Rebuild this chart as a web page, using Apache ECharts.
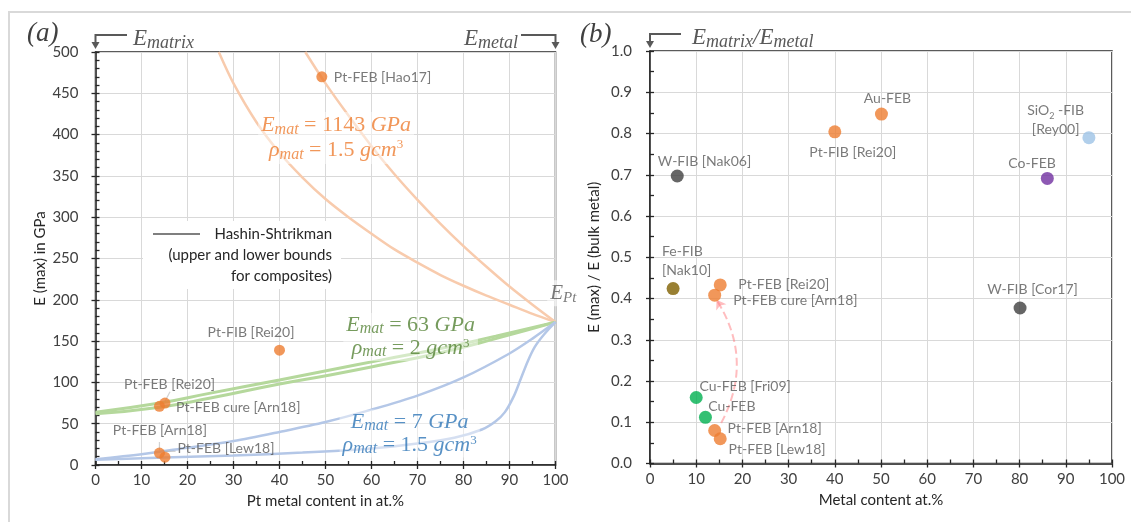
<!DOCTYPE html>
<html>
<head>
<meta charset="utf-8">
<script src="https://cdn.jsdelivr.net/npm/echarts/dist/echarts.min.js"></script>
<style>
  html, body { margin: 0; padding: 0; background: #ffffff; }
  #chart { width: 1131px; height: 522px; }
</style>
</head>
<body>
<div id="chart"></div>
<script>
// ---------- (a) Pt deposits: Pt content vs. maximum Young's modulus ----------
const ptLabels  = ['Pt-FEB [Hao17]', 'Pt-FIB [Rei20]', 'Pt-FEB [Rei20]', 'Pt-FEB cure [Arn18]', 'Pt-FEB [Arn18]', 'Pt-FEB [Lew18]'];
const ptContent = [49.2, 40, 15.1, 13.9, 13.9, 15.1];
const ptModulus = [470, 139, 75, 71, 14.5, 9.5];

// Hashin-Shtrikman bounds, matrix E = 1143 GPa, rho = 1.5
const hs1143UpperX = [45.6, 50, 55, 60, 65, 70, 75, 80, 85, 90, 95, 100];
const hs1143UpperE = [500, 462, 423, 386, 352, 321, 292, 265, 240, 216, 194, 173];
const hs1143LowerX = [26.8, 30, 35, 40, 45, 50, 55, 60, 65, 70, 75, 80, 85, 90, 95, 100];
const hs1143LowerE = [500, 462, 415, 378, 348, 322, 300, 280, 261, 245, 230, 217, 205, 194, 183, 173];
// matrix E = 63 GPa, rho = 2
const hs63X      = [0, 14, 25, 40, 51, 62, 75, 87, 100];
const hs63UpperE = [64, 75, 87, 103, 115, 127, 141, 156, 173];
const hs63LowerE = [62, 70, 81, 98, 109, 121, 136, 153, 173];
// matrix E = 7 GPa, rho = 1.5
const hs7UpperX = [0, 10, 20, 30, 40, 50, 60, 70, 80, 90, 95, 100];
const hs7UpperE = [7, 13, 21, 29, 40, 52, 67, 84, 106, 135, 153, 173];
const hs7LowerX = [0, 15, 30, 45, 60, 70, 78, 84, 87, 89, 91, 92.5, 94, 95.5, 97.5, 100];
const hs7LowerE = [6.5, 9, 11.5, 15, 20, 26, 33, 43, 53, 64, 84, 105, 126, 143, 158, 173];

// ---------- (b) deposits of several metals: normalised modulus ----------
const depositLabels  = ['W-FIB [Nak06]', 'Pt-FIB [Rei20]', 'Au-FEB', 'SiO2 -FIB\n[Rey00]', 'Co-FEB', 'Fe-FIB\n[Nak10]',
                        'Pt-FEB [Rei20]', 'Pt-FEB cure [Arn18]', 'W-FIB [Cor17]', 'Cu-FEB [Fri09]', 'Cu-FEB',
                        'Pt-FEB [Arn18]', 'Pt-FEB [Lew18]'];
const depositMetal   = ['W', 'Pt', 'Au', 'SiO2', 'Co', 'Fe', 'Pt', 'Pt', 'W', 'Cu', 'Cu', 'Pt', 'Pt'];
const depositContent = [5.9, 40, 50.1, 95, 86, 5, 15.2, 14, 80.1, 10, 12, 14, 15.2];
const depositRatio   = [0.697, 0.804, 0.847, 0.79, 0.691, 0.424, 0.433, 0.408, 0.377, 0.16, 0.112, 0.08, 0.06];

// tick labels
const pctTicks = [0, 10, 20, 30, 40, 50, 60, 70, 80, 90, 100];

// ---------- styling and annotation layout ----------
const metalColor = { W: '#404040', Pt: '#ED7D31', Au: '#ED7D31', SiO2: '#9DC3E6', Co: '#7030A0', Fe: '#7F6000', Cu: '#00B050' };
const ptLabelAt = [[51.8, 469, 'left'], [33.8, 160, 'center'], [16.1, 97.7, 'center'], [17.5, 70.2, 'left'], [14, 41.2, 'center'], [17.8, 19.4, 'left']];
const depositLabelAt = [[11.8, 0.731, 'center'], [43.9, 0.754, 'center'], [51.4, 0.884, 'center'], [87.8, 0.832, 'center'],
                        [82.7, 0.727, 'center'], [2.6, 0.491, 'left'], [19.1, 0.434, 'left'], [18.0, 0.395, 'left'],
                        [82.8, 0.422, 'center'], [10.7, 0.186, 'left'], [12.6, 0.138, 'left'], [16.8, 0.086, 'left'], [17, 0.035, 'left']];
const ptLeaders = [[[16.2, 88.6], [15.1, 77]], [[14.2, 71.4], [16.4, 71.4]], [[13.9, 27.8], [13.9, 18]], [[14.9, 12.5], [14.9, 16.6], [17.4, 16.6]]];
const cureArrow = [[15.4, 0.098], [14.4, 0.397]];

const sans = "Lato, 'Open Sans', sans-serif";
const serif = "'Liberation Serif', 'DejaVu Serif', serif";
const ink = '#595959';
const axisInk = '#262626';
const tickText = '#404040';

function zip(xs, ys) { return xs.map((x, i) => [x, ys[i]]); }

function mathRich(color, size, lh, subScale) {
  const sub = Math.round(size * (subScale || 0.72)), sup = Math.round(size * 0.6);
  return {
    v: { fontFamily: serif, fontStyle: 'italic', fontSize: size, color, fill: color, lineHeight: lh },
    n: { fontFamily: serif, fontSize: size, color, fill: color, lineHeight: lh },
    s: { fontFamily: serif, fontStyle: 'italic', fontSize: sub, color, fill: color, lineHeight: sub, verticalAlign: 'bottom' },
    p: { fontFamily: serif, fontSize: sup, color, fill: color, lineHeight: sup, verticalAlign: 'top' }
  };
}

function curve(xs, ys, color, width, smooth) {
  return {
    type: 'line', xAxisIndex: 0, yAxisIndex: 0, data: zip(xs, ys),
    smooth: smooth || 0.3, showSymbol: false, silent: true, z: 2,
    lineStyle: { color, width }
  };
}

function note(xi, yi, at, text, rich, align, bg) {
  return {
    type: 'scatter', xAxisIndex: xi, yAxisIndex: yi, symbolSize: 1, silent: true, z: 8,
    itemStyle: { color: 'rgba(0,0,0,0)' },
    data: [{
      value: [at[0], at[1]],
      label: {
        show: true, position: 'inside', align: align || 'center', verticalAlign: 'middle',
        formatter: () => text, rich,
        backgroundColor: bg || 'transparent', padding: bg ? [1, 3] : 0
      }
    }]
  };
}

const labelRich = {
  t: { fontFamily: sans, fontSize: 14, color: ink, lineHeight: 19 },
  d: { fontFamily: sans, fontSize: 9, color: ink, lineHeight: 9, verticalAlign: 'bottom' }
};
function labelText(s) {
  return s.split('\n').map(line => line.replace('SiO2', '{t|SiO}{d|2}').replace(/^(?!\{)(.*)$/, '{t|$1}')
    .replace(/\{d\|2\}(.+)$/, '{d|2}{t|$1}')).join('\n');
}

function valueAxis(grid, min, max, interval, opts) {
  return Object.assign({
    type: 'value', gridIndex: grid, min, max, interval,
    axisLine: { show: true, onZero: false, lineStyle: { color: axisInk, width: 1.5 } },
    axisTick: { show: true, inside: false, length: 4, lineStyle: { color: axisInk, width: 1.3 } },
    axisLabel: { fontFamily: sans, fontSize: 15, color: tickText },
    splitLine: { show: true, lineStyle: { color: '#D9D9D9', width: 1 } },
    nameTextStyle: { fontFamily: sans, fontSize: 15, color: axisInk }
  }, opts);
}
function minorAxis(grid, min, max, interval, position) {
  return {
    type: 'value', gridIndex: grid, min, max, interval, position,
    axisLine: { show: false }, axisLabel: { show: false }, splitLine: { show: false },
    axisTick: { show: true, inside: true, length: 4, lineStyle: { color: axisInk, width: 1.3 } }
  };
}

const xAxes = [
  valueAxis(0, 0, 100, 10, {
    position: 'bottom', name: 'Pt metal content in at.%', nameLocation: 'middle', nameGap: 29,
    axisLabel: { fontFamily: sans, fontSize: 15, color: tickText, margin: 8,
      formatter: v => pctTicks.includes(v) ? String(v) : '' }
  }),
  minorAxis(0, 0, 100, 5, 'bottom'),
  valueAxis(1, 0, 100, 10, {
    position: 'bottom', name: 'Metal content at.%', nameLocation: 'middle', nameGap: 29,
    axisLabel: { fontFamily: sans, fontSize: 15, color: tickText, margin: 8,
      formatter: v => pctTicks.includes(v) ? String(v) : '' }
  }),
  minorAxis(1, 0, 100, 5, 'bottom')
];
const yAxes = [
  valueAxis(0, 0, 500, 50, {
    position: 'left', name: 'E (max) in GPa', nameLocation: 'middle', nameGap: 48,
    axisLabel: { fontFamily: sans, fontSize: 15, color: tickText, margin: 17 }
  }),
  minorAxis(0, 0, 500, 10, 'left'),
  valueAxis(1, 0, 1, 0.1, {
    position: 'left', name: 'E (max) / E (bulk metal)', nameLocation: 'middle', nameGap: 48,
    axisLabel: { fontFamily: sans, fontSize: 15, color: tickText, margin: 18, formatter: v => v.toFixed(1) }
  }),
  minorAxis(1, 0, 1, 0.05, 'left')
];

const series = [
  curve(hs1143UpperX, hs1143UpperE, '#F8CBAD', 2.5),
  curve(hs1143LowerX, hs1143LowerE, '#F8CBAD', 2.5),
  curve(hs63X, hs63UpperE, '#B5D89C', 3, 0.5),
  curve(hs63X, hs63LowerE, '#B5D89C', 3, 0.5),
  curve(hs7UpperX, hs7UpperE, '#B4C7E7', 2.5),
  curve(hs7LowerX, hs7LowerE, '#B4C7E7', 2.5),
  {
    type: 'lines', coordinateSystem: 'cartesian2d', xAxisIndex: 0, yAxisIndex: 0, polyline: true, silent: true, z: 3,
    lineStyle: { color: '#A6A6A6', width: 1.2 }, data: ptLeaders.map(c => ({ coords: c }))
  },
  {
    type: 'scatter', xAxisIndex: 0, yAxisIndex: 0, symbolSize: 11, z: 5, silent: true,
    itemStyle: { color: '#ED7D31' }, data: zip(ptContent, ptModulus)
  },
  {
    type: 'scatter', xAxisIndex: 2, yAxisIndex: 2, symbolSize: 13, z: 5, silent: true,
    data: depositContent.map((x, i) => ({ value: [x, depositRatio[i]], itemStyle: { color: metalColor[depositMetal[i]] } }))
  },
  {
    type: 'lines', coordinateSystem: 'cartesian2d', xAxisIndex: 2, yAxisIndex: 2, silent: true, z: 4,
    symbol: ['none', 'arrow'], symbolSize: 9,
    lineStyle: { color: '#FF7C80', width: 2, type: 'dashed', curveness: -0.29 },
    data: [{ coords: cureArrow }]
  }
];

ptLabels.forEach((t, i) => {
  const a = ptLabelAt[i];
  series.push(note(0, 0, [a[0], a[1]], labelText(t), labelRich, a[2]));
});
depositLabels.forEach((t, i) => {
  const a = depositLabelAt[i];
  series.push(note(2, 2, [a[0], a[1]], labelText(t), labelRich, a[2]));
});

// bound annotations
series.push(note(0, 0, [52.3, 396], '{v|E}{s|mat}{n| = 1143 }{v|GPa}\n{v|ρ}{s|mat}{n| = 1.5 }{v|gcm}{p|3}',
  mathRich('#ED7D31', 22, 25), 'center', 'rgba(255,255,255,0.6)'));
series.push(note(0, 0, [68.5, 155], '{v|E}{s|mat}{n| = 63 }{v|GPa}\n{v|ρ}{s|mat}{n| = 2 }{v|gcm}{p|3}',
  mathRich('#548235', 22, 23), 'center', 'rgba(255,255,255,0.55)'));
series.push(note(0, 0, [68.3, 38], '{v|E}{s|mat}{n| = 7 }{v|GPa}\n{v|ρ}{s|mat}{n| = 1.5 }{v|gcm}{p|3}',
  mathRich('#2E75B6', 22, 23), 'center', 'rgba(255,255,255,0.55)'));
series.push(note(0, 0, [98.2, 208], '{v|E}{s|Pt}', mathRich(ink, 21, 24), 'left', 'rgba(255,255,255,0.7)'));

const topRich = mathRich(ink, 23, 27, 0.78);
function headText(x, y, text, align) {
  return { type: 'text', x, y, z: 10, silent: true,
    style: { text, rich: topRich, align, textAlign: align, verticalAlign: 'middle', textVerticalAlign: 'middle' } };
}
function arrow(hx, vx, y, tipY) {
  return [
    { type: 'polyline', z: 10, silent: true, shape: { points: [[hx, y], [vx, y], [vx, tipY - 5]] },
      style: { stroke: ink, lineWidth: 2, fill: null } },
    { type: 'polygon', z: 10, silent: true, shape: { points: [[vx - 4, tipY - 7], [vx + 4, tipY - 7], [vx, tipY]] },
      style: { fill: ink } }
  ];
}
function plainText(x, y, text, align) {
  return { type: 'text', x, y, z: 10, silent: true,
    style: { text, font: '15px ' + sans, fill: '#262626', align, textAlign: align, verticalAlign: 'middle', textVerticalAlign: 'middle' } };
}

const graphic = [
  { type: 'rect', z: 0, silent: true, shape: { x: 9, y: 12, width: 1140, height: 530 },
    style: { fill: 'none', stroke: '#D9D9D9', lineWidth: 2 } },
  { type: 'text', x: 27, y: 34, z: 10, silent: true,
    style: { text: '(a)', font: 'italic 27px ' + serif, fill: '#404040', verticalAlign: 'middle', textVerticalAlign: 'middle' } },
  { type: 'text', x: 580, y: 35, z: 10, silent: true,
    style: { text: '(b)', font: 'italic 27px ' + serif, fill: '#404040', verticalAlign: 'middle', textVerticalAlign: 'middle' } },
  ...arrow(127, 95.5, 35, 49),
  ...arrow(521, 555.5, 35, 49),
  ...arrow(681, 650, 34, 48),
  headText(133, 39, '{v|E}{s|matrix}', 'left'),
  headText(518, 39, '{v|E}{s|metal}', 'right'),
  headText(692, 38, '{v|E}{s|matrix}{v|/E}{s|metal}', 'left'),
  // Hashin-Shtrikman key
  { type: 'rect', z: 6, silent: true, shape: { x: 143, y: 221, width: 198, height: 68 }, style: { fill: '#ffffff' } },
  { type: 'line', z: 7, silent: true, shape: { x1: 153, y1: 234, x2: 200, y2: 234 }, style: { stroke: '#7F7F7F', lineWidth: 2 } },
  plainText(332, 234, 'Hashin-Shtrikman', 'right'),
  plainText(332, 255, '(upper and lower bounds', 'right'),
  plainText(332, 276, 'for composites)', 'right')
];

const option = {
  animation: false,
  backgroundColor: '#ffffff',
  grid: [
    { left: 95.5, top: 52, width: 460, height: 413, show: true, borderColor: axisInk, borderWidth: 1.5, backgroundColor: 'transparent', outerBoundsMode: 'none' },
    { left: 650, top: 51, width: 462, height: 412.5, show: true, borderColor: axisInk, borderWidth: 1.5, backgroundColor: 'transparent', outerBoundsMode: 'none' }
  ],
  xAxis: xAxes,
  yAxis: yAxes,
  series,
  graphic
};

const chart = echarts.init(document.getElementById('chart'), null, { renderer: 'canvas' });
chart.setOption(option);
</script>
</body>
</html>
